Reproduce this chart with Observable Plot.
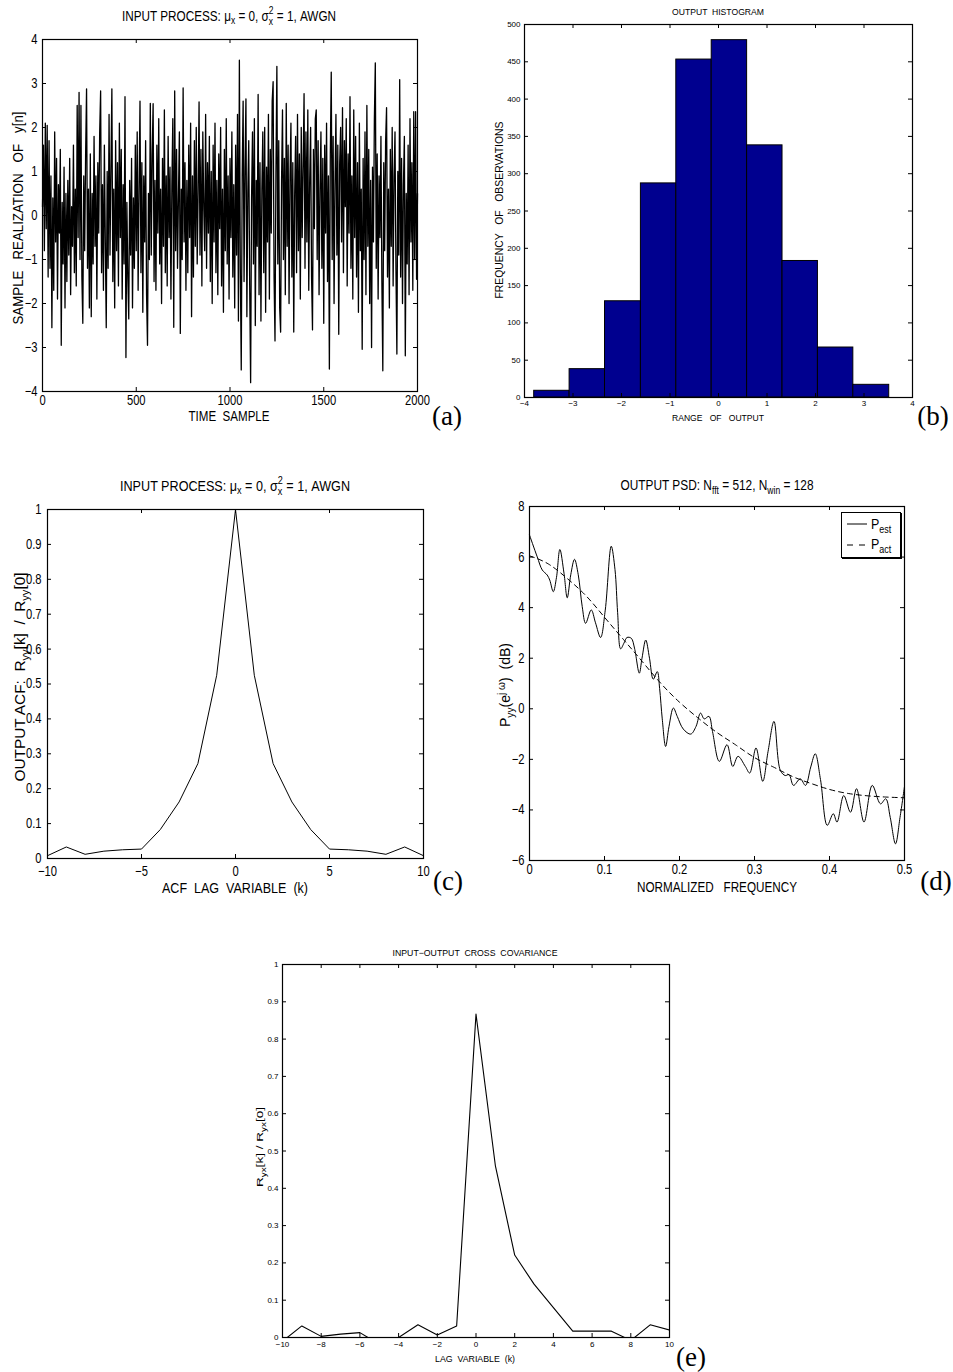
<!DOCTYPE html>
<html><head><meta charset="utf-8">
<script src="https://cdn.jsdelivr.net/npm/d3@7"></script>
<script src="https://cdn.jsdelivr.net/npm/@observablehq/plot@0.6"></script>
<style>
body{margin:0;background:#fff;}
#root{position:relative;width:953px;height:1372px;background:#fff;overflow:hidden;}
.lbl{position:absolute;white-space:pre;color:#000;line-height:1;font-family:"Liberation Sans",Arial,sans-serif;}
.tag{font-family:"Liberation Serif","Times New Roman",serif;}
sub{font-size:0.72em;vertical-align:-0.38em;line-height:0;}
sup{font-size:0.72em;vertical-align:0.5em;line-height:0;}
.ss{display:inline-flex;flex-direction:column;font-size:0.72em;line-height:1.05;vertical-align:0.62em;}
.leg{position:absolute;border:1px solid #000;box-shadow:1px 1px 0 #000;background:#fff;}
</style></head><body><div id="root"></div>
<script>
// ---------- DATA ----------
// (a) sample realization y[n] (every 5th sample, n = 0..2000)
const sampleStep = 5;
const sampleValues = [
 0.2,1.6,-0.8,2.1,-0.3,2.05,-1.4,1.7,-1.2,0.9,-2.55,0.4,-1.7,1.9,-0.6,1.3,-1.9,0.7,-0.4,1.5,
 -2.95,0.3,-1.1,1.1,-2.1,0.5,-1.5,0.8,-0.9,1.3,-1.8,0.2,-0.7,1.6,-1.3,0.6,-1.6,2.5,-0.5,2.8,
 -1.0,2.5,-1.4,-2.45,0.9,-0.8,1.4,2.88,-1.2,0.6,-2.1,1.4,-2.3,0.5,-1.1,1.8,-0.7,0.9,-1.9,1.2,
 -0.4,1.9,2.83,-1.3,0.7,-1.7,1.6,-0.6,-2.55,1.0,-1.2,2.3,-0.9,1.1,2.88,-1.5,0.6,-2.1,1.7,-0.8,
 1.2,-1.6,2.1,-0.5,1.5,-1.9,0.7,-1.1,2.7,-3.23,0.3,-1.4,-2.35,0.8,-0.9,1.3,-2.1,0.4,-1.2,1.6,
 -0.8,1.9,-1.7,0.6,2.6,-1.3,1.2,-2.2,0.9,-0.6,1.7,-1.8,-2.95,0.5,-1.0,2.55,-0.9,1.4,2.54,-1.5,
 0.8,-1.7,1.6,-0.4,2.2,-1.1,0.6,-2.0,1.3,-0.7,2.4,-1.3,0.9,-1.6,1.8,-0.5,1.1,-1.9,0.7,2.2,
 -2.54,2.83,-0.8,1.5,-1.2,0.4,1.9,-2.68,0.6,-1.0,2.9,-0.6,1.2,-1.7,0.8,-1.3,1.6,-0.5,2.1,-2.3,
 0.9,-1.4,1.7,-0.7,2.0,-1.1,0.5,2.58,-0.9,1.5,-1.6,1.9,0.2,-0.8,2.3,-1.2,1.2,-0.4,1.8,-1.5,
 1.0,-2.0,1.6,-0.6,2.1,-1.3,0.8,-1.8,1.4,-0.3,2.0,-1.6,0.6,-2.2,1.5,-0.8,2.2,-1.1,0.9,-1.9,
 1.3,-0.5,1.9,-1.4,0.7,-2.1,1.6,-0.9,2.3,-2.4,3.53,-1.2,-3.51,0.9,2.6,-1.5,1.1,2.65,-2.3,0.5,
 1.7,-1.6,-3.8,0.4,1.9,-1.1,2.2,-2.5,0.8,-0.7,2.75,-1.8,1.2,-2.4,0.6,1.9,-1.3,2.0,-2.2,1.1,
 -0.6,2.3,-1.9,1.5,-0.4,2.6,3.04,-1.4,-2.85,1.0,3.39,-1.1,1.7,-2.1,-2.65,0.8,2.4,-1.0,1.3,-1.8,
 2.55,-0.7,1.6,-2.0,0.9,2.1,-1.4,1.2,-2.65,0.5,1.8,-1.3,2.3,-0.8,1.4,-1.9,2.0,-0.5,1.1,2.77,
 -1.2,1.9,-0.6,2.4,-1.7,0.8,2.0,-1.4,-2.6,1.5,-0.3,2.2,2.4,-1.0,1.7,-1.8,0.6,1.9,-1.2,1.3,
 -2.45,1.6,-0.4,2.1,-1.5,0.9,-3.49,1.4,3.26,-1.0,1.8,-2.0,0.7,2.3,-0.9,1.6,-2.7,1.2,2.0,-0.6,
 2.45,-1.3,1.7,0.2,2.2,-1.6,1.4,-0.4,2.7,-1.2,0.9,-1.9,2.4,-0.5,1.8,-1.4,1.2,-2.2,2.1,-0.8,
 0.6,-3.04,1.3,-1.0,1.9,-1.8,2.5,-0.7,1.5,-2.0,0.8,-3.0,1.1,-0.6,2.2,3.47,-1.2,1.4,-1.9,0.9,
 -0.5,1.8,-1.5,-3.53,1.2,-0.8,1.7,2.45,-1.4,0.6,-2.1,1.5,-0.7,2.0,-1.6,0.9,1.9,-1.2,-3.15,1.0,
 -0.9,3.09,-1.4,1.3,-2.0,0.7,1.8,-3.19,0.5,-1.1,1.6,-1.8,2.2,-0.6,1.2,-1.7,2.36,-1.0,2.36,-1.45,
 0.5
];
// (b) histogram of output
const histEdges = [-3.80,-3.07,-2.34,-1.60,-0.87,-0.14,0.59,1.32,2.05,2.78,3.52];
const histCounts = [9,38,129,287,453,479,338,183,67,17];
// (c) output ACF
const acfLags = [-10,-9,-8,-7,-6,-5,-4,-3,-2,-1,0,1,2,3,4,5,6,7,8,9,10];
const acfValues = [0.008,0.033,0.012,0.021,0.025,0.027,0.083,0.162,0.272,0.525,1.0,0.525,0.272,0.162,0.083,0.027,0.025,0.021,0.012,0.033,0.008];
// (d) output PSD
const psdEstFreq = [0,0.0103,0.017,0.0236,0.027,0.0317,0.036,0.0405,0.046,0.0503,0.055,0.060,0.065,0.0703,0.0748,0.0823,0.088,0.0948,0.101,0.109,0.114,0.1175,0.1215,0.126,0.130,0.1357,0.140,0.1464,0.150,0.155,0.160,0.165,0.1704,0.1735,0.177,0.1815,0.186,0.1918,0.197,0.205,0.215,0.222,0.228,0.233,0.2393,0.244,0.2531,0.2634,0.271,0.278,0.2878,0.2936,0.302,0.311,0.318,0.326,0.3345,0.341,0.346,0.352,0.361,0.368,0.375,0.381,0.388,0.397,0.405,0.41,0.419,0.428,0.436,0.446,0.457,0.468,0.475,0.481,0.488,0.494,0.5];
const psdEstDb = [6.87,6.01,5.49,5.29,5.09,4.63,5.2,6.30,5.36,4.39,5.3,5.91,5.3,4.04,3.38,3.91,3.4,2.82,3.9,6.43,5.5,3.8,2.37,2.6,2.82,2.79,2.4,1.41,2.0,2.72,2.0,1.17,1.47,0.8,-0.4,-1.49,-0.7,0.03,-0.3,-0.8,-1.0,-0.7,-0.17,-0.4,-0.3,-0.9,-2.08,-1.42,-2.28,-1.88,-2.28,-2.54,-1.55,-2.87,-1.7,-0.5,-2.44,-2.64,-2.6,-3.03,-2.77,-3.03,-2.3,-1.78,-2.8,-4.61,-4.15,-4.48,-3.43,-4.09,-3.16,-4.48,-3.03,-3.76,-3.56,-4.3,-5.34,-4.3,-3.07];
const psdActFreq = [0,0.025,0.05,0.075,0.1,0.125,0.15,0.175,0.2,0.225,0.25,0.275,0.3,0.325,0.35,0.375,0.4,0.425,0.45,0.475,0.5];
const psdActDb = [6.05,5.73,5.16,4.48,3.62,2.75,1.88,1.01,0.26,-0.37,-0.94,-1.43,-1.93,-2.3,-2.67,-2.95,-3.19,-3.35,-3.44,-3.49,-3.52];
// (e) input-output cross covariance
const ccLags = [-10,-9,-8,-7,-6,-5,-4,-3,-2,-1,0,1,2,3,4,5,6,7,8,9,10];
const ccValues = [-0.010,0.031,0.003,0.009,0.013,-0.018,0.0,0.034,0.007,0.031,0.867,0.461,0.221,0.143,0.080,0.017,0.017,0.017,-0.008,0.034,0.020];
// tick labels
const aXTicks = [0,500,1000,1500,2000], aYTicks = [-4,-3,-2,-1,0,1,2,3,4];
const bXTicks = [-4,-3,-2,-1,0,1,2,3,4], bYTicks = [0,50,100,150,200,250,300,350,400,450,500];
const cXTicks = [-10,-5,0,5,10], cYTicks = [0,0.1,0.2,0.3,0.4,0.5,0.6,0.7,0.8,0.9,1];
const dXTicks = [0,0.1,0.2,0.3,0.4,0.5], dYTicks = [-6,-4,-2,0,2,4,6,8];
const eXTicks = [-10,-8,-6,-4,-2,0,2,4,6,8,10], eYTicks = cYTicks;

// ---------- BUILD ----------
const root = document.getElementById("root");
const SANS = '"Liberation Sans",Arial,sans-serif';
const fmt = d => (d < 0 ? "\u2212" : "") + String(Math.abs(d));

function panel(o) {
  const W = o.width - o.ml - o.mr, H = o.height - o.mt - o.mb, t = o.tickLen ?? 4;
  const chart = Plot.plot({
    width: o.width, height: o.height,
    marginLeft: o.ml, marginRight: o.mr, marginTop: o.mt, marginBottom: o.mb,
    style: {fontFamily: SANS, fontSize: o.fontSize + "px", background: "transparent", color: "black", overflow: "visible"},
    x: {domain: o.xDomain, ticks: o.xTicks, tickSize: 0, tickPadding: o.xPad ?? 4, tickFormat: fmt, label: null},
    y: {domain: o.yDomain, ticks: o.yTicks, tickSize: 0, tickPadding: o.yPad ?? 5, tickFormat: fmt, label: null},
    marks: [
      ...o.marks,
      Plot.tickX(o.xTicks, {x: d => d, insetTop: H - t, stroke: "black"}),
      Plot.tickX(o.xTicks, {x: d => d, insetBottom: H - t, stroke: "black"}),
      Plot.tickY(o.yTicks, {y: d => d, insetRight: W - t, stroke: "black"}),
      Plot.tickY(o.yTicks, {y: d => d, insetLeft: W - t, stroke: "black"}),
      Plot.frame({stroke: "black", strokeWidth: 1.2})
    ]
  });
  if (o.condense) {
    chart.querySelectorAll("text").forEach(t => {
      t.setAttribute("transform", ((t.getAttribute("transform") || "") + " scale(" + o.condense + ",1)").trim());
    });
  }
  chart.style.position = "absolute";
  chart.style.left = o.left + "px";
  chart.style.top = o.top + "px";
  root.append(chart);
}
// text label centred on (x, y); stretched horizontally to span `len` pixels as in the reference
function label(html, x, y, size, len, rot, cls) {
  const d = document.createElement("div");
  d.className = "lbl" + (cls ? " " + cls : "");
  d.style.left = x + "px"; d.style.top = y + "px"; d.style.fontSize = size + "px";
  d.innerHTML = html;
  root.append(d);
  const s = len ? len / d.getBoundingClientRect().width : 1;
  d.style.transform = "translate(-50%,-50%)" + (rot ? " rotate(-90deg)" : "") + " scaleX(" + s + ")";
}

// (a)
const sampleData = sampleValues.map((v, i) => ({n: i * sampleStep, y: v}));
panel({left: 0, top: 30, width: 470, height: 400, ml: 42, mr: 53, mt: 9, mb: 39, condense: 0.8,
  xDomain: [0, 2000], yDomain: [-4, 4], xTicks: aXTicks, yTicks: aYTicks, fontSize: 14,
  marks: [Plot.line(sampleData, {x: "n", y: "y", stroke: "black", strokeWidth: 1.3})]});

// (b)
const histData = histCounts.map((c, i) => ({x1: histEdges[i], x2: histEdges[i + 1], count: c}));
panel({left: 470, top: 0, width: 483, height: 430, ml: 54, mr: 41, mt: 24, mb: 33,
  xDomain: [-4, 4], yDomain: [0, 500], xTicks: bXTicks, yTicks: bYTicks, fontSize: 8, xPad: 3, yPad: 4,
  marks: [Plot.rectY(histData, {x1: "x1", x2: "x2", y: "count", fill: "#00008F", stroke: "black", strokeWidth: 1})]});

// (c)
const acfData = acfLags.map((k, i) => ({k, r: acfValues[i]}));
panel({left: 0, top: 470, width: 470, height: 430, ml: 47, mr: 47, mt: 39, mb: 42, condense: 0.8,
  xDomain: [-10, 10], yDomain: [0, 1], xTicks: cXTicks, yTicks: cYTicks, fontSize: 14, xPad: 8, yPad: 6,
  marks: [Plot.line(acfData, {x: "k", y: "r", stroke: "black", strokeWidth: 1})]});

// (d)
const estData = psdEstFreq.map((f, i) => ({f, p: psdEstDb[i]}));
const actData = psdActFreq.map((f, i) => ({f, p: psdActDb[i]}));
panel({left: 470, top: 470, width: 483, height: 430, ml: 59, mr: 49, mt: 36, mb: 40, condense: 0.8,
  xDomain: [0, 0.5], yDomain: [-6, 8], xTicks: dXTicks, yTicks: dYTicks, fontSize: 14,
  marks: [
    Plot.line(actData, {x: "f", y: "p", stroke: "black", strokeWidth: 1, strokeDasharray: "5,4", curve: "natural"}),
    Plot.line(estData, {x: "f", y: "p", stroke: "black", strokeWidth: 1, curve: "catmull-rom"})
  ]});

// (e)
const ccData = ccLags.map((k, i) => ({k, r: ccValues[i]}));
panel({left: 240, top: 940, width: 480, height: 432, ml: 42, mr: 51, mt: 24, mb: 35,
  xDomain: [-10, 10], yDomain: [0, 1], xTicks: eXTicks, yTicks: eYTicks, fontSize: 8, xPad: 4, yPad: 4,
  marks: [Plot.line(ccData, {x: "k", y: "r", stroke: "black", strokeWidth: 1.1, clip: true})]});

// ---------- TEXT ----------
const inputTitle = 'INPUT PROCESS: μ<sub>x</sub> = 0, σ<span class="ss"><span>2</span><span>x</span></span> = 1, AWGN';
label(inputTitle, 229, 17, 14, 214);
label("TIME  SAMPLE", 229, 416, 14, 81);
label("SAMPLE   REALIZATION   OF   y[n]", 18, 218, 14, 213, true);
label("(a)", 447, 416, 27, 0, false, "tag");

label("OUTPUT  HISTOGRAM", 718, 12, 9, 92);
label("RANGE   OF   OUTPUT", 718, 418, 9, 92);
label("FREQUENCY   OF   OBSERVATIONS", 500, 210, 10, 177, true);
label("(b)", 933, 416, 27, 0, false, "tag");

label(inputTitle, 235, 487, 14, 230);
label("ACF  LAG  VARIABLE  (k)", 235, 888, 14, 146);
label("OUTPUT ACF:  R<sub>yy</sub>[k]  /  R<sub>yy</sub>[0]", 20, 677, 14.5, 209, true);
label("(c)", 448, 881, 27, 0, false, "tag");

label("OUTPUT PSD: N<sub>fft</sub> = 512, N<sub>win</sub> = 128", 717, 485, 14, 193);
label("NORMALIZED   FREQUENCY", 717, 887, 14, 160);
label("P<sub>yy</sub>(e<sup>j ω</sup>)  (dB)", 505, 685, 14.5, 84, true);
label("(d)", 936, 881, 27, 0, false, "tag");

label("INPUT−OUTPUT  CROSS  COVARIANCE", 475, 953, 9, 165);
label("LAG  VARIABLE  (k)", 475, 1359, 9, 80);
label("R<sub>yx</sub>[k] / R<sub>yx</sub>[0]", 260, 1147, 9.5, 80, true);
label("(e)", 691, 1357, 27, 0, false, "tag");

// legend for (d)
const leg = document.createElement("div");
leg.className = "leg";
Object.assign(leg.style, {left: "841px", top: "512px", width: "58px", height: "44px"});
leg.innerHTML =
  '<svg width="30" height="44" style="position:absolute;left:0;top:0">' +
  '<line x1="5" x2="25" y1="11" y2="11" stroke="#000" stroke-width="1"/>' +
  '<line x1="5" x2="25" y1="32" y2="32" stroke="#000" stroke-width="1" stroke-dasharray="6,6"/></svg>' +
  '<div style="position:absolute;left:29px;top:3px;font-size:15px;white-space:pre;line-height:1;font-family:\'Liberation Sans\',Arial,sans-serif;transform:scaleX(0.83);transform-origin:left center">P<sub>est</sub></div>' +
  '<div style="position:absolute;left:29px;top:23px;font-size:15px;white-space:pre;line-height:1;font-family:\'Liberation Sans\',Arial,sans-serif;transform:scaleX(0.83);transform-origin:left center">P<sub>act</sub></div>';
root.append(leg);
</script></body></html>
